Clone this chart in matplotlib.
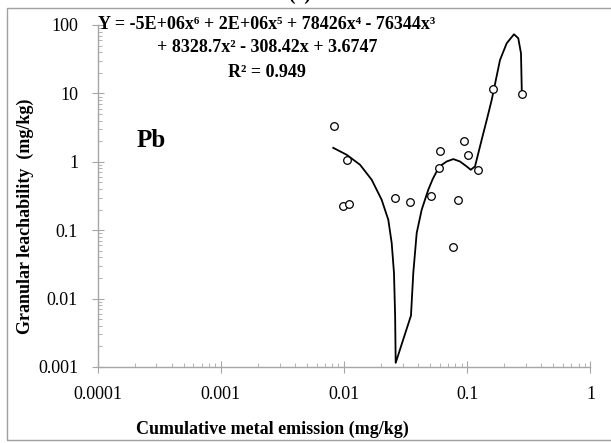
import matplotlib.pyplot as plt
from matplotlib.patches import Rectangle

# measured points (cumulative emission vs. granular leachability), mg/kg
emission = [0.00825, 0.0106, 0.0099, 0.0110, 0.0259, 0.0341, 0.0505, 0.0590,
            0.0598, 0.0946, 0.1014, 0.0846, 0.0766, 0.1223, 0.161, 0.278]
leachability = [3.36, 1.06, 0.228, 0.241, 0.291, 0.255, 0.319, 0.809,
                1.45, 2.03, 1.26, 0.279, 0.0574, 0.763, 11.5, 9.7]

# 6th order polynomial trendline as plotted
fit_x = [0.00818, 0.01052, 0.0135, 0.01678, 0.0202, 0.02288, 0.02438, 0.02545,
         0.0260, 0.02627, 0.03496, 0.0365, 0.0389, 0.0427, 0.0483, 0.0525,
         0.0565, 0.0620, 0.0681, 0.0771, 0.0873, 0.099, 0.1067, 0.1156,
         0.131, 0.145, 0.158, 0.1845, 0.209, 0.2395, 0.2595, 0.273, 0.2775]
fit_y = [1.60, 1.265, 0.904, 0.546, 0.279, 0.142, 0.065, 0.0237,
         0.00552, 0.00115, 0.00565, 0.0237, 0.091, 0.199, 0.39, 0.56,
         0.722, 0.90, 1.01, 1.095, 1.01, 0.854, 0.764, 0.854,
         2.10, 4.3, 8.04, 30.8, 54.0, 73.2, 64.0, 38.6, 9.7]

eq_lines = ['Y = -5E+06x⁶ + 2E+06x⁵ + 78426x⁴ - 76344x³',
            '+ 8328.7x² - 308.42x + 3.6747',
            'R² = 0.949']

serif = ['Liberation Serif', 'DejaVu Serif']
plt.rcParams['font.family'] = serif

fig = plt.figure(figsize=(6.11, 4.43), dpi=100)
ax = fig.add_axes([0.1596, 0.1716, 0.8068, 0.772])

ax.plot(fit_x, fit_y, color='black', lw=1.3, zorder=2)
ax.plot(emission, leachability, 'o', mfc='white', mec='black', ms=5.5,
        mew=0.9, zorder=3)

ax.set_xscale('log')
ax.set_yscale('log')
ax.set_xlim(0.0001, 1)
ax.set_ylim(0.001, 100)
ax.set_xticks([0.0001, 0.001, 0.01, 0.1, 1])
ax.set_xticklabels(['0.0001', '0.001', '0.01', '0.1', '1'])
ax.set_yticks([0.001, 0.01, 0.1, 1, 10, 100])
ax.set_yticklabels(['0.001', '0.01', '0.1', '1', '10', '100'])

for side in ('top', 'right'):
    ax.spines[side].set_visible(False)
for side in ('left', 'bottom'):
    ax.spines[side].set_color('#a6a6a6')
    ax.spines[side].set_linewidth(1.0)

ax.tick_params(which='major', direction='inout', length=8, width=0.8,
               color='#a6a6a6', labelsize=13, labelcolor='black')
ax.tick_params(which='minor', direction='in', length=3, width=0.6,
               color='#a6a6a6')
ax.tick_params(axis='x', which='major', pad=10)
ax.tick_params(axis='y', which='major', pad=10)

ax.set_xlabel('Cumulative metal emission (mg/kg)', fontsize=13,
              fontweight='bold')
ax.set_ylabel('Granular leachability  (mg/kg)', fontsize=13,
              fontweight='bold')
ax.xaxis.set_label_coords(0.354, -0.158)
ax.yaxis.set_label_coords(-0.128, 0.44)

ax.text(0.08, 0.643, 'Pb', transform=ax.transAxes, fontsize=18,
        fontweight='bold', ha='left', va='baseline')

for yy, line in zip([1.0, 0.933, 0.86], eq_lines):
    ax.text(0.344, yy, line, transform=ax.transAxes, fontsize=13,
            fontweight='bold', ha='center', va='center', clip_on=False)

# panel frame and the top of the panel tag
fig.patches.append(Rectangle((7 / 611, 3 / 443), 1.0, 432 / 443,
                             transform=fig.transFigure, fill=False,
                             edgecolor='#a0a0a0', lw=1.0))
fig.text(0.49, 1 - 4 / 443, '(a)', fontsize=14, fontweight='bold',
         ha='center', va='bottom')

fig.savefig('out.png', dpi=100)
